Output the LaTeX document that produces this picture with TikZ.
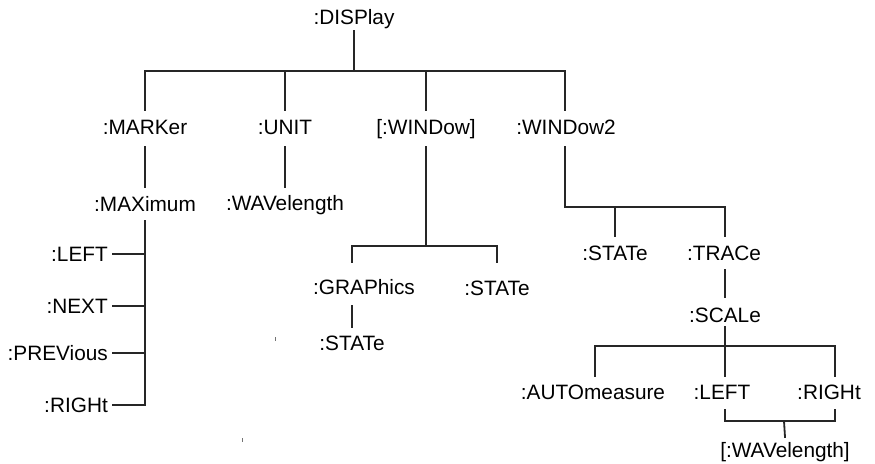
\documentclass[tikz,border=0pt]{standalone}
\usepackage{fontspec}
\setmainfont{Liberation Sans}
\begin{document}
\begin{tikzpicture}[x=1pt,y=-1pt,
  lbl/.style={inner sep=0pt, text height=14pt, text depth=0pt, font=\fontsize{20.8pt}{24pt}\selectfont},
  wire/.style={line width=1.8pt, color=black!85, line cap=rect},
  speck/.style={line width=1pt, color=black!55}]
\useasboundingbox (0,0) rectangle (875,463);
% nodes
\node[lbl] (disp) at (354,17) {:DISPlay};
\node[lbl] (marker) at (145,127) {:MARKer};
\node[lbl] (unit) at (285,127) {:UNIT};
\node[lbl] (window) at (426,127) {[:WINDow]};
\node[lbl] (window2) at (566,127) {:WINDow2};
\node[lbl] (maximum) at (145,204) {:MAXimum};
\node[lbl] (wavel) at (285,203) {:WAVelength};
\node[lbl,anchor=east] (left1) at (108,254) {:LEFT};
\node[lbl,anchor=east] (next1) at (108,306) {:NEXT};
\node[lbl,anchor=east] (prev1) at (108,353) {:PREVious};
\node[lbl,anchor=east] (right1) at (108,405) {:RIGHt};
\node[lbl] (graphics) at (364,287) {:GRAPhics};
\node[lbl] (state1) at (497,288) {:STATe};
\node[lbl] (state2) at (352,343) {:STATe};
\node[lbl] (state3) at (615,253) {:STATe};
\node[lbl] (trace) at (724,253) {:TRACe};
\node[lbl] (scale) at (725,315) {:SCALe};
\node[lbl] (auto) at (593,392) {:AUTOmeasure};
\node[lbl] (left2) at (722,392) {:LEFT};
\node[lbl] (right2) at (829,392) {:RIGHt};
\node[lbl] (wavel2) at (785,450) {[:WAVelength]};
% junction coordinates
\coordinate (b1) at (354,71);
\coordinate (m1) at (145,110);
\coordinate (u1) at (285,110);
\coordinate (w1) at (426,110);
\coordinate (v1) at (565,110);
\coordinate (b2) at (426,246);
\coordinate (g1) at (352,262);
\coordinate (s1) at (497,262);
\coordinate (b3) at (565,207);
\coordinate (st3) at (615,236);
\coordinate (tr1) at (725,236);
\coordinate (b4) at (725,346);
\coordinate (a1) at (595,376);
\coordinate (l1) at (725,376);
\coordinate (r1) at (835,376);
\coordinate (l2) at (725,410);
\coordinate (r2) at (835,410);
\coordinate (b5) at (784,421);
% top level
\draw[wire] ([yshift=-14pt]disp.center) -- (b1);
\draw[wire] (m1) |- (b1 -| v1) -- (v1);
\draw[wire] (u1) -- (u1 |- b1);
\draw[wire] (w1) -- (w1 |- b1);
% marker branch
\draw[wire] ([yshift=-20pt]marker.center) -- ([yshift=17pt]maximum.center);
\draw[wire] ([yshift=-17pt]maximum.center) |- ([xshift=5pt]right1.east);
\draw[wire] ([xshift=5pt]left1.east) -- (left1 -| maximum);
\draw[wire] ([xshift=5pt]next1.east) -- (next1 -| maximum);
\draw[wire] ([xshift=5pt]prev1.east) -- (prev1 -| maximum);
% unit branch
\draw[wire] ([yshift=-20pt]unit.center) -- ([yshift=16pt]wavel.center);
% window branch
\draw[wire] ([yshift=-20pt]window.center) -- (b2);
\draw[wire] (g1) |- (b2 -| s1) -- (s1);
\draw[wire] ([yshift=-19pt]graphics.center -| g1) -- ([yshift=16pt]state2.center);
% window2 branch
\draw[wire] ([yshift=-20pt]window2.center -| v1) -- (b3) -| (tr1);
\draw[wire] (st3) -- (st3 |- b3);
\draw[wire] ([yshift=-17pt]trace.center -| tr1) -- ([yshift=18pt]scale.center);
\draw[wire] ([yshift=-12pt]scale.center) -- (b4);
\draw[wire] (a1) |- (b4 -| r1) -- (r1);
\draw[wire] (l1) -- (l1 |- b4);
\draw[wire] (l2) |- (b5 -| r2) -- (r2);
\draw[wire] (b5) -- ([yshift=13pt]wavel2.center);
% stray specks
\draw[speck] (275.5,337) -- (275.5,341);
\draw[speck] (242.5,438) -- (242.5,442);
\end{tikzpicture}
\end{document}
